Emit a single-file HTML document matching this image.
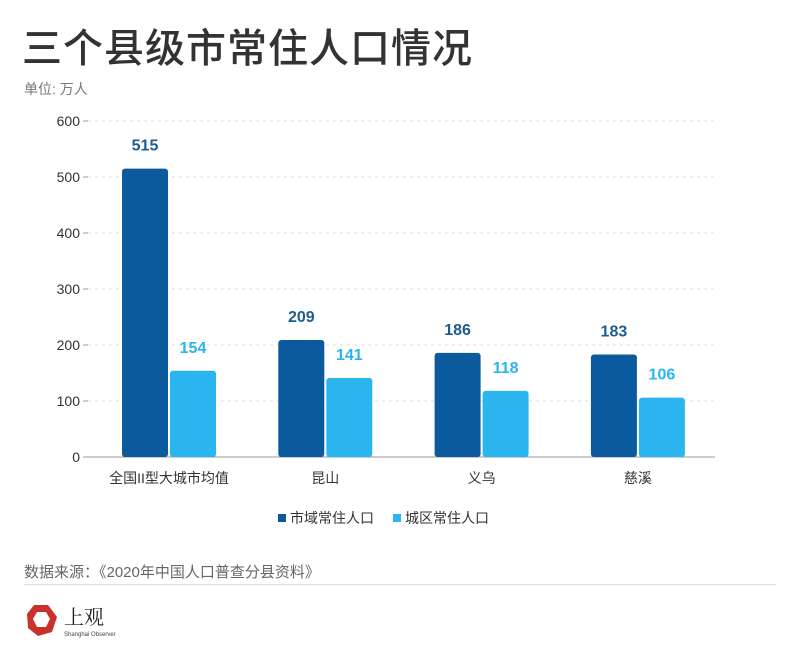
<!DOCTYPE html>
<html><head><meta charset="utf-8"><style>
body{margin:0;width:800px;height:657px;background:#fff;font-family:"Liberation Sans","Noto Sans CJK SC",sans-serif;overflow:hidden;position:relative}
.t{position:absolute;white-space:nowrap}
</style></head><body>
<div class="t" style="left:22px;top:16px;font-size:40px;font-weight:500;color:#333;letter-spacing:1px">三个县级市常住人口情况</div>
<div class="t" style="left:24px;top:79px;font-size:14px;color:#777">单位: 万人</div>
<svg id="chart" width="800" height="540" style="position:absolute;left:0;top:0"></svg>
<div class="t" style="left:24px;top:561px;font-size:15px;color:#666">数据来源：《2020年中国人口普查分县资料》</div>
<div style="position:absolute;left:24px;top:584px;width:752px;height:1px;background:#ddd"></div>
<svg width="120" height="50" style="position:absolute;left:24px;top:600px">
<polygon points="10,5 24,5 33,17 28,32 14,36 4,28 3,14" fill="#c8322b"/>
<polygon points="13,12 22,12 26,19 22,27 13,27 9,19" fill="#fff"/>
<text x="40" y="24" font-size="20" font-family="Noto Serif CJK SC,serif" fill="#222">上观</text>
<text x="40" y="36" font-size="6" fill="#444">Shanghai Observer</text>
</svg>
<script>
const categories=["全国II型大城市均值","昆山","义乌","慈溪"];
const cityPop=[515,209,186,183];
const urbanPop=[154,141,118,106];
const ticks=[0,100,200,300,400,500,600];
const NS="http://www.w3.org/2000/svg";
const svg=document.getElementById('chart');
const y0=457,yTop=121,max=600,x0=88,x1=715;
const y=v=>y0-(v/max)*(y0-yTop);
const cx=i=>169+i*156.3;
function el(t,a,txt){const e=document.createElementNS(NS,t);for(const k in a)e.setAttribute(k,a[k]);if(txt!=null)e.textContent=txt;svg.appendChild(e);return e;}
ticks.forEach(v=>{
 const g=el('line',{x1:x0,x2:x1,y1:y(v),y2:y(v),stroke:v?'#ddd':'#999','stroke-dasharray':v?'3,4':'',"stroke-width":1});
 
 
 const tk=el('line',{x1:x0-5,x2:x0,y1:y(v),y2:y(v),stroke:'#999'});
 
 
 const t=el('text',{x:80,y:y(v)+5,'text-anchor':'end','font-size':14,fill:'#333'},v);
 
 
});
categories.forEach((c,i)=>{
 const b1=el('rect',{x:cx(i)-47,y:y(cityPop[i]),width:46,height:y0-y(cityPop[i]),fill:'#0b5a9e',rx:3});
 
 
 const b2=el('rect',{x:cx(i)+1,y:y(urbanPop[i]),width:46,height:y0-y(urbanPop[i]),fill:'#2ab5ef',rx:3});
 
 
 const l1=el('text',{x:cx(i)-24,y:y(cityPop[i])-18,'text-anchor':'middle','font-size':16,'font-weight':'bold',fill:'#1d5c8e'},cityPop[i]);
 
 
 const l2=el('text',{x:cx(i)+24,y:y(urbanPop[i])-18,'text-anchor':'middle','font-size':16,'font-weight':'bold',fill:'#2ab5ef'},urbanPop[i]);
 
 
 const xl=el('text',{x:cx(i),y:483,'text-anchor':'middle','font-size':14,fill:'#333'},c);
 
 
});
const lg=[['#0b5a9e','市域常住人口',290],['#2ab5ef','城区常住人口',405]];
lg.forEach(d=>{
 const r=el('rect',{x:d[2]-12,y:514,width:8,height:8,fill:d[0]});
 
 
 const t=el('text',{x:d[2],y:523,'font-size':14,fill:'#333'},d[1]);
 
 
});
</script>
</body></html>
